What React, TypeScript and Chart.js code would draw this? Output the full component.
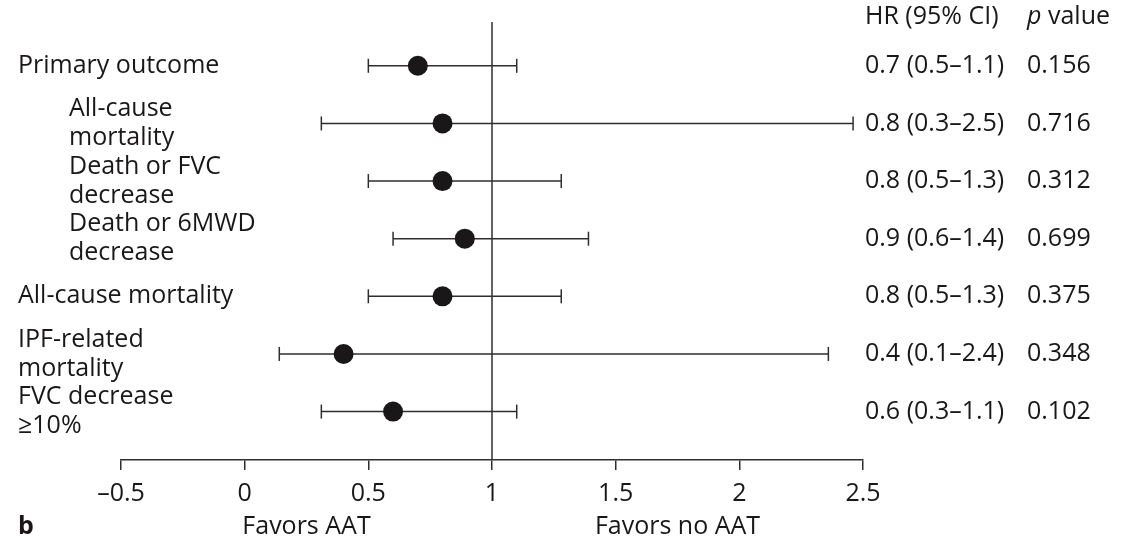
import React, { useEffect, useRef } from 'react';
import { Chart, registerables } from 'chart.js';

Chart.register(...registerables);

// ---- data ----
const rowLabels: string[][] = [
  ['Primary outcome'],
  ['All-cause', 'mortality'],
  ['Death or FVC', 'decrease'],
  ['Death or 6MWD', 'decrease'],
  ['All-cause mortality'],
  ['IPF-related', 'mortality'],
  ['FVC decrease', '≥10%'],
];
const indented = [false, true, true, true, false, false, false];
const hrValues = [0.7, 0.8, 0.8, 0.89, 0.8, 0.4, 0.6];
const lowerCI = [0.5, 0.31, 0.5, 0.6, 0.5, 0.14, 0.31];
const upperCI = [1.1, 2.46, 1.28, 1.39, 1.28, 2.36, 1.1];
const hrText = [
  '0.7 (0.5–1.1)',
  '0.8 (0.3–2.5)',
  '0.8 (0.5–1.3)',
  '0.9 (0.6–1.4)',
  '0.8 (0.5–1.3)',
  '0.4 (0.1–2.4)',
  '0.6 (0.3–1.1)',
];
const pText = ['0.156', '0.716', '0.312', '0.699', '0.375', '0.348', '0.102'];
const xMin = -0.5;
const xMax = 2.5;
const xStep = 0.5;
const headerHR = 'HR (95% CI)';
const headerP = ' value';
const favorsLeft = 'Favors AAT';
const favorsRight = 'Favors no AAT';
const panelLetter = 'b';

const FONT = '"Open Sans", "Noto Sans", sans-serif';
const FS = 25;
const TEXT = '#1a1718';
const LINE = '#2e2e2e';

export default function App() {
  const ref = useRef<HTMLCanvasElement | null>(null);

  useEffect(() => {
    document.body.style.margin = '0';
    const canvas = ref.current;
    if (!canvas) return;

    const textPlugin = {
      id: 'forestText',
      beforeDatasetsDraw(chart: any) {
        const { ctx, chartArea, scales } = chart;
        const x1 = scales.x.getPixelForValue(1);
        ctx.save();
        ctx.strokeStyle = LINE;
        ctx.lineWidth = 1.5;
        ctx.beginPath();
        ctx.moveTo(x1, chartArea.top);
        ctx.lineTo(x1, chartArea.bottom);
        ctx.stroke();
        ctx.restore();
      },
      afterDraw(chart: any) {
        const { ctx, scales } = chart;
        const ys = scales.y;
        const xs = scales.x;
        ctx.save();
        ctx.fillStyle = TEXT;
        ctx.textBaseline = 'middle';
        ctx.font = `${FS}px ${FONT}`;
        ctx.textAlign = 'left';
        const lh = 29;
        rowLabels.forEach((lines, i) => {
          const y = ys.getPixelForValue(i);
          const x = indented[i] ? 69 : 18;
          const n = lines.length;
          lines.forEach((t, k) => {
            const dy = (k - (n - 1) / 2) * lh;
            ctx.fillText(t, x, y + dy);
          });
          ctx.fillText(hrText[i], 865, y);
          ctx.fillText(pText[i], 1027, y);
        });
        // headers
        ctx.fillText(headerHR, 865, 17);
        ctx.font = `italic ${FS}px ${FONT}`;
        ctx.fillText('p', 1027, 17);
        const pw = ctx.measureText('p').width;
        ctx.font = `${FS}px ${FONT}`;
        ctx.fillText(headerP, 1027 + pw, 17);
        // favors labels
        ctx.textAlign = 'center';
        ctx.fillText(favorsLeft, xs.getPixelForValue(0.25), 527);
        ctx.fillText(favorsRight, xs.getPixelForValue(1.75), 527);
        // panel letter
        ctx.textAlign = 'left';
        ctx.font = `bold ${FS}px ${FONT}`;
        ctx.fillText(panelLetter, 18, 527);
        ctx.restore();
      },
    };

    const ciDatasets = hrValues.map((_, i) => ({
      type: 'scatter' as const,
      data: [
        { x: lowerCI[i], y: i },
        { x: upperCI[i], y: i },
      ],
      showLine: true,
      borderColor: LINE,
      borderWidth: 1.5,
      pointRadius: 0,
      order: 3,
    }));

    const capData = hrValues.flatMap((_, i) => [
      { x: lowerCI[i], y: i },
      { x: upperCI[i], y: i },
    ]);

    const chart = new Chart(canvas, {
      type: 'scatter',
      data: {
        datasets: [
          ...ciDatasets,
          {
            type: 'scatter',
            data: capData,
            pointStyle: 'line',
            rotation: 90,
            pointRadius: 7,
            borderColor: LINE,
            borderWidth: 1.5,
            order: 2,
          },
          {
            type: 'scatter',
            data: hrValues.map((v, i) => ({ x: v, y: i })),
            pointRadius: 10,
            backgroundColor: TEXT,
            borderColor: TEXT,
            borderWidth: 0,
            order: 1,
          },
        ] as any,
      },
      options: {
        responsive: false,
        animation: false,
        events: [],
        layout: { padding: { left: 121, right: 275, top: 22, bottom: 31 } },
        plugins: {
          legend: { display: false },
          tooltip: { enabled: false },
          title: { display: false },
        },
        scales: {
          x: {
            type: 'linear',
            min: xMin,
            max: xMax,
            ticks: {
              stepSize: xStep,
              color: TEXT,
              padding: 9,
              font: { family: FONT, size: FS },
              callback: (v: any) => String(v).replace('-', '–'),
            },
            grid: {
              drawOnChartArea: false,
              drawTicks: true,
              tickLength: 10,
              color: LINE,
              lineWidth: 1.5,
            },
            border: { display: true, color: LINE, width: 1.5 },
          },
          y: {
            type: 'linear',
            display: false,
            reverse: true,
            min: -0.76,
            max: 6.84,
          },
        },
      },
      plugins: [textPlugin],
    });

    return () => chart.destroy();
  }, []);

  return (
    <div style={{ width: 1138, height: 549, background: '#fff' }}>
      <canvas ref={ref} width={1138} height={549} />
    </div>
  );
}
